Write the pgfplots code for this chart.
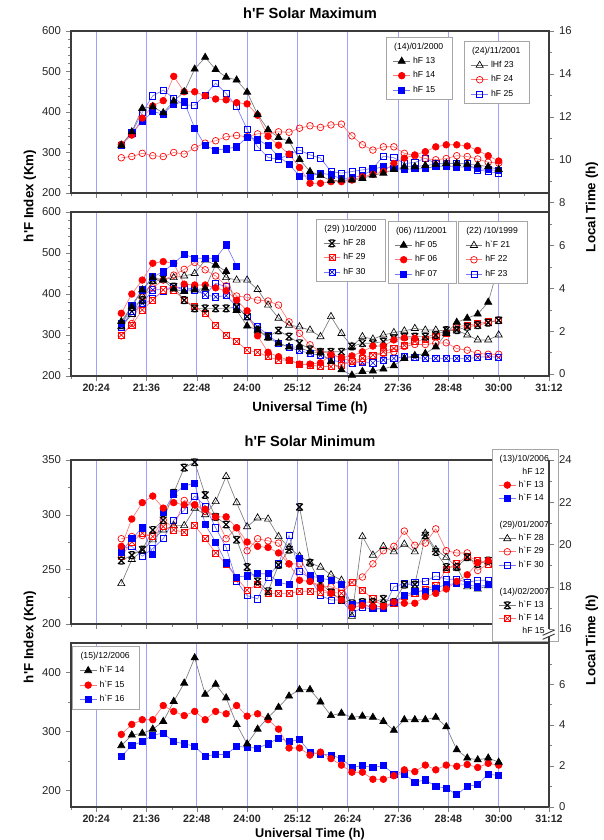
\documentclass[border=0pt]{standalone}
\usepackage{fontspec}
\setmainfont{Liberation Sans}
\usepackage{pgfplots}
\pgfplotsset{compat=1.18}
\definecolor{gridblue}{RGB}{160,160,255}
\definecolor{axgray}{RGB}{60,60,60}
\definecolor{linegray}{RGB}{125,125,125}
\definecolor{linered}{RGB}{255,120,120}
\definecolor{lineblue}{RGB}{120,120,255}

\pgfdeclareplotmark{boxx}{%
 \pgfpathrectangle{\pgfqpoint{-\pgfplotmarksize}{-\pgfplotmarksize}}{\pgfqpoint{2\pgfplotmarksize}{2\pgfplotmarksize}}%
 \pgfusepathqfillstroke
 \pgfpathmoveto{\pgfqpoint{-\pgfplotmarksize}{-\pgfplotmarksize}}\pgfpathlineto{\pgfqpoint{\pgfplotmarksize}{\pgfplotmarksize}}%
 \pgfpathmoveto{\pgfqpoint{-\pgfplotmarksize}{\pgfplotmarksize}}\pgfpathlineto{\pgfqpoint{\pgfplotmarksize}{-\pgfplotmarksize}}%
 \pgfusepathqstroke}
\pgfdeclareplotmark{xstar}{%
 \pgfpathmoveto{\pgfqpoint{-\pgfplotmarksize}{-\pgfplotmarksize}}\pgfpathlineto{\pgfqpoint{\pgfplotmarksize}{\pgfplotmarksize}}%
 \pgfpathmoveto{\pgfqpoint{-\pgfplotmarksize}{\pgfplotmarksize}}\pgfpathlineto{\pgfqpoint{\pgfplotmarksize}{-\pgfplotmarksize}}%
 \pgfpathmoveto{\pgfqpoint{-0.6\pgfplotmarksize}{\pgfplotmarksize}}\pgfpathlineto{\pgfqpoint{0.6\pgfplotmarksize}{\pgfplotmarksize}}%
 \pgfpathmoveto{\pgfqpoint{-0.6\pgfplotmarksize}{-\pgfplotmarksize}}\pgfpathlineto{\pgfqpoint{0.6\pgfplotmarksize}{-\pgfplotmarksize}}%
 \pgfusepathqstroke}

\pgfplotsset{
 base/.style={scale only axis, width=358.5pt, xmin=19.8, xmax=31.2,
  xtick={20.4,21.6,22.8,24,25.2,26.4,27.6,28.8,30,31.2},
  minor xtick={19.8,21,22.2,23.4,24.6,25.8,27,28.2,29.4,30.6},
  xmajorgrids, grid style={gridblue, line width=0.7pt},
  major grid style={gridblue, line width=0.7pt},
  xtick pos=bottom, ytick pos=left, tick align=outside,
  major tick length=4pt, minor tick length=2.5pt,
  axis line style={-, draw=axgray, line width=0.9pt},
  yticklabel style={font=\fontsize{8.5}{10}\selectfont, text=black!85},
  xticklabel style={font=\bfseries\fontsize{8}{10}\selectfont, text=black!85, inner sep=1.5pt},
  /pgf/number format/assume math mode=true, scaled y ticks=false},
 rax/.style={scale only axis, width=358.5pt, xmin=0, xmax=1,
  axis x line=none, axis y line*=right, tick align=outside,
  major tick length=4pt, minor tick length=2.5pt,
  axis line style={-, draw=axgray, line width=0.9pt},
  yticklabel style={font=\fontsize{8.5}{10}\selectfont, text=black!85},
  /pgf/number format/assume math mode=true},
 legax/.style={scale only axis, width=358.5pt, hide axis, xmin=0, xmax=1, ymin=0, ymax=1,
  legend cell align=left,
  legend style={draw=gray!70, line width=0.6pt, fill=white, font=\fontsize{6.5}{7.8}\selectfont,
   inner sep=2pt, inner xsep=5pt, row sep=0.6pt},
  legend image code/.code={\draw[mark repeat=2, mark phase=2] plot coordinates {(0cm,0cm) (0.22cm,0cm) (0.44cm,0cm)};}},
 ser/.style={line width=0.5pt, mark size=2.5pt},
 ktri/.style={ser, draw=linegray, mark=triangle*, mark size=3.1pt, mark options={draw=black, fill=black}},
 ktrio/.style={ser, draw=linegray, mark=triangle, mark size=3.1pt, mark options={draw=black}},
 rdot/.style={ser, draw=linered, mark=*, mark options={draw=red, fill=red}},
 rcirc/.style={ser, draw=linered, mark=o, mark options={draw=red}},
 bsq/.style={ser, draw=lineblue, mark=square*, mark size=2.3pt, mark options={draw=blue, fill=blue}},
 bsqo/.style={ser, draw=lineblue, mark=square, mark size=2.3pt, mark options={draw=blue}},
 kx/.style={ser, draw=linegray, mark=xstar, mark options={draw=black, line width=0.9pt}},
 rbx/.style={ser, draw=linered, mark=boxx, mark size=2.3pt, mark options={draw=red, fill=white}},
 bbx/.style={ser, draw=lineblue, mark=boxx, mark size=2.3pt, mark options={draw=blue, fill=white}},
}

\begin{document}
\begin{tikzpicture}
\path[use as bounding box] (0,0) rectangle (453pt,630pt);

% ---------------- Panel 1 ----------------
\begin{axis}[base, at={(53.25pt,485.25pt)}, height=121.5pt, ymin=200, ymax=600,
  ytick={200,300,400,500,600}, minor y tick num=4, xticklabels={}]
\addplot[bsqo] coordinates {(21,318) (21.25,349) (21.5,399) (21.75,440) (22,454) (22.25,434) (22.5,417) (22.75,417) (23,442) (23.25,471) (23.5,446) (23.75,413) (24,357) (24.25,314) (24.5,288) (24.75,283) (25,296) (25.25,306) (25.5,294) (25.75,286) (26,253) (26.25,249) (26.5,253) (26.75,257) (27,261) (27.25,291) (27.5,287) (27.75,273) (28,275) (28.25,286) (28.5,273) (28.75,272) (29,273) (29.25,272) (29.5,257) (29.75,253) (30,249)};
\addplot[rcirc] coordinates {(21,287) (21.25,290) (21.5,298) (21.75,292) (22,290) (22.25,300) (22.5,296) (22.75,312) (23,323) (23.25,329) (23.5,339) (23.75,342) (24,339) (24.25,346) (24.5,349) (24.75,351) (25,350) (25.25,360) (25.5,366) (25.75,362) (26,368) (26.25,370) (26.5,341) (26.75,319) (27,306) (27.25,314) (27.5,314) (27.75,298) (28,292) (28.25,285) (28.5,282) (28.75,285) (29,292) (29.25,290) (29.5,284) (29.75,276) (30,274)};
\addplot[bsq] coordinates {(21,318) (21.25,347) (21.5,377) (21.75,401) (22,395) (22.25,420) (22.5,425) (22.75,360) (23,317) (23.25,306) (23.5,309) (23.75,314) (24,338) (24.25,332) (24.5,317) (24.75,290) (25,271) (25.25,242) (25.5,242) (25.75,249) (26,245) (26.25,235) (26.5,238) (26.75,243) (27,258) (27.25,266) (27.5,260) (27.75,258) (28,260) (28.25,260) (28.5,266) (28.75,266) (29,264) (29.25,264) (29.5,260) (29.75,258) (30,255)};
\addplot[rdot] coordinates {(21,320) (21.25,343) (21.5,385) (21.75,415) (22,428) (22.25,488) (22.5,450) (22.75,450) (23,440) (23.25,432) (23.5,430) (23.75,423) (24,420) (24.25,392) (24.5,340) (24.75,318) (25,296) (25.25,263) (25.5,224) (25.75,224) (26,228) (26.25,228) (26.5,232) (26.75,240) (27,246) (27.25,253) (27.5,273) (27.75,286) (28,294) (28.25,302) (28.5,314) (28.75,319) (29,319) (29.25,316) (29.5,305) (29.75,292) (30,279)};
\addplot[ktri] coordinates {(21,318) (21.25,351) (21.5,409) (21.75,413) (22,398) (22.25,427) (22.5,450) (22.75,506) (23,535) (23.25,505) (23.5,486) (23.75,479) (24,449) (24.25,394) (24.5,356) (24.75,337) (25,328) (25.25,283) (25.5,253) (25.75,243) (26,230) (26.25,232) (26.5,232) (26.75,236) (27,244) (27.25,249) (27.5,258) (27.75,265) (28,265) (28.25,268) (28.5,271) (28.75,273) (29,273) (29.25,271) (29.5,269) (29.75,265) (30,258)};
\end{axis}
\begin{axis}[legax, at={(53.25pt,485.25pt)}, height=121.5pt, legend style={at={(0.659,0.963)}, anchor=north west}]
\addlegendimage{empty legend}\addlegendentry{\hspace*{-0.5cm}(14)/01/2000}
\addlegendimage{ktri}\addlegendentry{hF 13}
\addlegendimage{rdot}\addlegendentry{hF 14}
\addlegendimage{bsq}\addlegendentry{hF 15}
\end{axis}
\begin{axis}[legax, at={(53.25pt,485.25pt)}, height=121.5pt, legend style={at={(0.822,0.938)}, anchor=north west}]
\addlegendimage{empty legend}\addlegendentry{\hspace*{-0.5cm}(24)/11/2001}
\addlegendimage{ktrio}\addlegendentry{lHf 23}
\addlegendimage{rcirc}\addlegendentry{hF 24}
\addlegendimage{bsqo}\addlegendentry{hF 25}
\end{axis}

% ---------------- Panel 2 ----------------
\begin{axis}[base, at={(53.25pt,348pt)}, height=123pt, ymin=200, ymax=600,
  ytick={200,300,400,500,600}, minor y tick num=4,
  xticklabels={20:24,21:36,22:48,24:00,25:12,26:24,27:36,28:48,30:00,31:12}]
\addplot[bbx] coordinates {(21,320) (21.25,357) (21.5,377) (21.75,410) (22,411) (22.25,418) (22.5,414) (22.75,410) (23,398) (23.25,393) (23.5,396) (23.75,370) (24,345) (24.25,320) (24.5,300) (24.75,280) (25,270) (25.25,262) (25.5,255) (25.75,250) (26,240) (26.25,233) (26.5,232) (26.75,233) (27,232) (27.25,239) (27.5,243) (27.75,247) (28,245) (28.25,243) (28.5,243) (28.75,243) (29,243) (29.25,243) (29.5,245) (29.75,248) (30,245)};
\addplot[bsqo] coordinates {(21,320) (21.25,353) (21.5,373) (21.75,389) (22,406) (22.25,418) (22.5,410) (22.75,416) (23,398) (23.25,426) (23.5,418)};
\addplot[rbx] coordinates {(21,300) (21.25,324) (21.5,361) (21.75,385) (22,410) (22.25,410) (22.5,385) (22.75,369) (23,353) (23.25,324) (23.5,300) (23.75,284) (24,263) (24.25,258) (24.5,247) (24.75,239) (25,239) (25.25,229) (25.5,227) (25.75,223) (26,223) (26.25,227) (26.5,235) (26.75,243) (27,251) (27.25,259) (27.5,267) (27.75,275) (28,284) (28.25,290) (28.5,296) (28.75,304) (29,320) (29.25,324) (29.5,328) (29.75,332) (30,336)};
\addplot[rcirc] coordinates {(21,298) (21.25,328) (21.5,392) (21.75,415) (22,434) (22.25,446) (22.5,460) (22.75,477) (23,459) (23.25,444) (23.5,420) (23.75,395) (24,392) (24.25,385) (24.5,383) (24.75,373) (25,332) (25.25,304) (25.5,276) (25.75,259) (26,255) (26.25,243) (26.5,237) (26.75,235) (27,249) (27.25,255) (27.5,259) (27.75,272) (28,277) (28.25,277) (28.5,280) (28.75,281) (29,267) (29.25,263) (29.5,255) (29.75,253) (30,253)};
\addplot[ktrio] coordinates {(21,320) (21.25,350) (21.5,395) (21.75,430) (22,435) (22.25,440) (22.5,444) (22.75,450) (23,483) (23.25,470) (23.5,440) (23.75,434) (24,434) (24.25,411) (24.5,373) (24.75,341) (25,324) (25.25,320) (25.5,312) (25.75,296) (26,345) (26.25,304) (26.5,272) (26.75,296) (27,290) (27.25,300) (27.5,306) (27.75,310) (28,316) (28.25,312) (28.5,312) (28.75,310) (29,312) (29.25,300) (29.5,288) (29.75,288) (30,300)};
\addplot[kx] coordinates {(21,324) (21.25,368) (21.5,385) (21.75,434) (22,438) (22.25,418) (22.5,385) (22.75,365) (23,365) (23.25,365) (23.5,365) (23.75,368) (24,345) (24.25,312) (24.5,296) (24.75,311) (25,296) (25.25,280) (25.5,265) (25.75,259) (26,259) (26.25,259) (26.5,272) (26.75,280) (27,280) (27.25,284) (27.5,292) (27.75,296) (28,296) (28.25,296) (28.5,300) (28.75,312) (29,312) (29.25,320) (29.5,324) (29.75,330) (30,336)};
\addplot[rdot] coordinates {(21,353) (21.25,400) (21.5,434) (21.75,475) (22,479) (22.25,475) (22.5,424) (22.75,422) (23,422) (23.25,415) (23.5,408) (23.75,385) (24,359) (24.25,298) (24.5,258) (24.75,247) (25,239) (25.25,229) (25.5,229) (25.75,232) (26,251) (26.25,245) (26.5,249) (26.75,259) (27,273) (27.25,273) (27.5,288) (27.75,293) (28,292)};
\addplot[bsq] coordinates {(21,328) (21.25,373) (21.5,410) (21.75,442) (22,454) (22.25,475) (22.5,497) (22.75,487) (23,487) (23.25,487) (23.5,520) (23.75,468)};
\addplot[ktri] coordinates {(21,333) (21.25,369) (21.5,410) (21.75,440) (22,434) (22.25,412) (22.5,406) (22.75,410) (23,414) (23.25,471) (23.5,455) (23.75,360) (24,322) (24.25,312) (24.5,293) (24.75,280) (25,271) (25.25,270) (25.5,259) (25.75,257) (26,235) (26.25,215) (26.5,202) (26.75,211) (27,212) (27.25,217) (27.5,225) (27.75,243) (28,250) (28.25,255) (28.5,271) (28.75,304) (29,331) (29.25,341) (29.5,351) (29.75,380) (30,470)};
\end{axis}
\begin{axis}[legax, at={(53.25pt,348pt)}, height=123pt, legend style={at={(0.513,0.957)}, anchor=north west}]
\addlegendimage{empty legend}\addlegendentry{\hspace*{-0.5cm}(29) )10/2000}
\addlegendimage{kx}\addlegendentry{hF 28}
\addlegendimage{rbx}\addlegendentry{hF 29}
\addlegendimage{bbx}\addlegendentry{hF 30}
\end{axis}
\begin{axis}[legax, at={(53.25pt,348pt)}, height=123pt, legend style={at={(0.663,0.945)}, anchor=north west}]
\addlegendimage{empty legend}\addlegendentry{\hspace*{-0.5cm}(06) /11/2001}
\addlegendimage{ktri}\addlegendentry{hF 05}
\addlegendimage{rdot}\addlegendentry{hF 06}
\addlegendimage{bsq}\addlegendentry{hF 07}
\end{axis}
\begin{axis}[legax, at={(53.25pt,348pt)}, height=123pt, legend style={at={(0.81,0.945)}, anchor=north west}]
\addlegendimage{empty legend}\addlegendentry{\hspace*{-0.5cm}(22) /10/1999}
\addlegendimage{ktrio}\addlegendentry{h\textasciigrave F 21}
\addlegendimage{rcirc}\addlegendentry{hF 22}
\addlegendimage{bsqo}\addlegendentry{hF 23}
\end{axis}

% right axis for panels 1 and 2
\begin{axis}[rax, at={(53.25pt,348pt)}, height=258.75pt, ymin=-0.093, ymax=16,
  ytick={0,2,...,16}, minor ytick={1,3,...,15}]
\end{axis}

% ---------------- Panel 3 ----------------
\begin{axis}[base, at={(53.25pt,162pt)}, height=123pt, ymin=200, ymax=350,
  ytick={200,250,300,350}, minor y tick num=1, xticklabels={}]
\addplot[bsqo] coordinates {(21,269) (21.25,271) (21.5,262) (21.75,269) (22,278) (22.25,295) (22.5,304) (22.75,317) (23,308) (23.25,288) (23.5,270) (23.75,239) (24,226) (24.25,223) (24.5,243) (24.75,255) (25,281) (25.25,248) (25.5,242) (25.75,226) (26,222) (26.25,222) (26.5,210) (26.75,215) (27,214) (27.25,214) (27.5,234) (27.75,237) (28,238) (28.25,239) (28.5,244) (28.75,241) (29,241) (29.25,238) (29.5,240) (29.75,240)};
\addplot[rcirc] coordinates {(21,278) (21.25,280) (21.5,281) (21.75,281) (22,295) (22.25,288) (22.5,313) (22.75,309) (23,303) (23.25,298) (23.5,278) (23.75,288) (24,267) (24.25,278) (24.5,276) (24.75,274) (25,255) (25.25,255) (25.5,239) (25.75,235) (26,234) (26.25,231) (26.5,238) (26.75,243) (27,255) (27.25,267) (27.5,271) (27.75,285) (28,272) (28.25,274) (28.5,287) (28.75,267) (29,265) (29.25,265) (29.5,249) (29.75,255)};
\addplot[ktrio] coordinates {(21,237) (21.25,259) (21.5,267) (21.75,277) (22,286) (22.25,290) (22.5,290) (22.75,306) (23,300) (23.25,312) (23.5,335) (23.75,311) (24,289) (24.25,297) (24.5,296) (24.75,280) (25,270) (25.25,262) (25.5,256) (25.75,252) (26,245) (26.25,240) (26.5,207) (26.75,280) (27,263) (27.25,271) (27.5,266) (27.75,273) (28,266) (28.25,283) (28.5,268) (28.75,261) (29,252) (29.25,234) (29.5,232) (29.75,235)};
\addplot[rbx] coordinates {(21,262) (21.25,275) (21.5,283) (21.75,280) (22,289) (22.25,286) (22.5,284) (22.75,290) (23,278) (23.25,265) (23.5,255) (23.75,242) (24,231) (24.25,236) (24.5,228) (24.75,228) (25,228) (25.25,230) (25.5,230) (25.75,229) (26,229) (26.25,228) (26.5,238) (26.75,231) (27,223) (27.25,216) (27.5,219) (27.75,225) (28,228) (28.25,232) (28.5,235) (28.75,250) (29,255) (29.25,262) (29.5,258) (29.75,255)};
\addplot[kx] coordinates {(21,258) (21.25,263) (21.5,268) (21.75,286) (22,295) (22.25,320) (22.5,343) (22.75,348) (23,318) (23.25,298) (23.5,291) (23.75,277) (24,252) (24.25,239) (24.5,230) (24.75,254) (25,268) (25.25,307) (25.5,256) (25.75,237) (26,229) (26.25,222) (26.5,219) (26.75,220) (27,220) (27.25,223) (27.5,220) (27.75,236) (28,236) (28.25,281) (28.5,266) (28.75,252) (29,252) (29.25,261) (29.5,255) (29.75,258)};
\addplot[bsq] coordinates {(21,266) (21.25,278) (21.5,288) (21.75,264) (22,302) (22.25,319) (22.5,326) (22.75,329) (23,291) (23.25,275) (23.5,256) (23.75,243) (24,244) (24.25,246) (24.5,246) (24.75,238) (25,236) (25.25,260) (25.5,244) (25.75,242) (26,240) (26.25,236) (26.5,218) (26.75,219) (27,214) (27.25,214) (27.5,220) (27.75,226) (28,230) (28.25,230) (28.5,233) (28.75,236) (29,237) (29.25,236) (29.5,234) (29.75,236)};
\addplot[rdot] coordinates {(21,271) (21.25,296) (21.5,311) (21.75,317) (22,306) (22.25,311) (22.5,309) (22.75,309) (23,305) (23.25,298) (23.5,298) (23.75,288) (24,275) (24.25,271) (24.5,270) (24.75,265) (25,255) (25.25,240) (25.5,239) (25.75,233) (26,228) (26.25,222) (26.5,215) (26.75,217) (27,216) (27.25,216) (27.5,220) (27.75,219) (28,219) (28.25,225) (28.5,228) (28.75,232) (29,239) (29.25,245) (29.5,256) (29.75,258)};
\end{axis}
\begin{axis}[legax, at={(53.25pt,162pt)}, height=123pt, legend style={at={(1.02,1.067)}, anchor=north east, row sep=-0.4pt}]
\addlegendimage{empty legend}\addlegendentry{\hspace*{-0.5cm}(13)/10/2006}
\addlegendimage{empty legend}\addlegendentry{\hspace*{0.1cm}hF 12}
\addlegendimage{rdot}\addlegendentry{h\textasciigrave F 13}
\addlegendimage{bsq}\addlegendentry{h\textasciigrave F 14}
\addlegendimage{empty legend}\addlegendentry{\strut}
\addlegendimage{empty legend}\addlegendentry{\hspace*{-0.5cm}(29)/01/2007}
\addlegendimage{ktrio}\addlegendentry{h\textasciigrave F 28}
\addlegendimage{rcirc}\addlegendentry{h\textasciigrave F 29}
\addlegendimage{bsqo}\addlegendentry{h\textasciigrave F 30}
\addlegendimage{empty legend}\addlegendentry{\strut}
\addlegendimage{empty legend}\addlegendentry{\hspace*{-0.5cm}(14)/02/2007}
\addlegendimage{kx}\addlegendentry{h\textasciigrave F 13}
\addlegendimage{rbx}\addlegendentry{h\textasciigrave F 14}
\addlegendimage{empty legend}\addlegendentry{\hspace*{0.1cm}hF 15}
\end{axis}
\begin{axis}[rax, at={(53.25pt,158.25pt)}, height=126.75pt, ymin=16, ymax=24,
  ytick={16,18,20,22,24}, minor ytick={17,19,21,23}]
\end{axis}

% ---------------- Panel 4 ----------------
\begin{axis}[base, at={(53.25pt,24.75pt)}, height=123pt, ymin=172, ymax=450,
  ytick={200,300,400}, minor ytick={250,350},
  xticklabels={20:24,21:36,22:48,24:00,25:12,26:24,27:36,28:48,30:00,31:12}]
\addplot[bsq] coordinates {(21,258) (21.25,276) (21.5,283) (21.75,294) (22,297) (22.25,283) (22.5,279) (22.75,275) (23,258) (23.25,261) (23.5,261) (23.75,275) (24,273) (24.25,272) (24.5,279) (24.75,289) (25,283) (25.25,286) (25.5,265) (25.75,262) (26,260) (26.25,254) (26.5,239) (26.75,242) (27,239) (27.25,242) (27.5,228) (27.75,228) (28,214) (28.25,218) (28.5,207) (28.75,204) (29,193) (29.25,207) (29.5,210) (29.75,228) (30,225)};
\addplot[rdot] coordinates {(21,295) (21.25,312) (21.5,320) (21.75,320) (22,344) (22.25,334) (22.5,327) (22.75,334) (23,320) (23.25,334) (23.5,330) (23.75,344) (24,326) (24.25,330) (24.5,320) (24.75,304) (25,272) (25.25,272) (25.5,260) (25.75,265) (26,254) (26.25,243) (26.5,231) (26.75,231) (27,219) (27.25,219) (27.5,225) (27.75,235) (28,232) (28.25,243) (28.5,235) (28.75,243) (29,241) (29.25,244) (29.5,239) (29.75,246) (30,243)};
\addplot[ktri] coordinates {(21,276) (21.25,294) (21.5,297) (21.75,304) (22,317) (22.25,351) (22.5,382) (22.75,425) (23,363) (23.25,380) (23.5,357) (23.75,312) (24,279) (24.25,304) (24.5,324) (24.75,341) (25,360) (25.25,371) (25.5,371) (25.75,350) (26,327) (26.25,331) (26.5,324) (26.75,326) (27,324) (27.25,317) (27.5,302) (27.75,320) (28,320) (28.25,320) (28.5,324) (28.75,308) (29,269) (29.25,255) (29.5,252) (29.75,255) (30,248)};
\end{axis}
\begin{axis}[legax, at={(53.25pt,24.75pt)}, height=123pt, legend style={at={(0.003,0.98)}, anchor=north west}]
\addlegendimage{empty legend}\addlegendentry{\hspace*{-0.5cm}(15)/12/2006}
\addlegendimage{ktri}\addlegendentry{h\textasciigrave F 14}
\addlegendimage{rdot}\addlegendentry{h\textasciigrave F 15}
\addlegendimage{bsq}\addlegendentry{h\textasciigrave F 16}
\end{axis}
\begin{axis}[rax, at={(53.25pt,24.75pt)}, height=128.25pt, ymin=0, ymax=8.35,
  ytick={0,2,4,6}, minor ytick={1,3,5,7}]
\end{axis}

% axis break marks
\draw[axgray, line width=0.7pt] (407pt,153.5pt) -- (416pt,157.5pt);
\draw[axgray, line width=0.7pt] (407pt,150.5pt) -- (416pt,154.5pt);

% titles and labels
\node[font=\bfseries\fontsize{11}{13}\selectfont] at (232.5pt,620.25pt) {h\textquotesingle F Solar Maximum};
\node[font=\bfseries\fontsize{11}{13}\selectfont] at (232.5pt,299.25pt) {h\textquotesingle F Solar Minimum};
\node[font=\bfseries\fontsize{10}{12}\selectfont] at (232.5pt,324pt) {Universal Time (h)};
\node[font=\bfseries\fontsize{9.5}{11}\selectfont] at (232.5pt,4.6pt) {Universal Time (h)};
\node[font=\bfseries\fontsize{10}{12}\selectfont, rotate=90] at (22.5pt,483pt) {h\textquotesingle F Index (Km)};
\node[font=\bfseries\fontsize{10}{12}\selectfont, rotate=90] at (22.5pt,152.25pt) {h\textquotesingle F Index (Km)};
\node[font=\bfseries\fontsize{10}{12}\selectfont, rotate=90] at (444pt,474.75pt) {Local Time (h)};
\node[font=\bfseries\fontsize{10}{12}\selectfont, rotate=90] at (444pt,150pt) {Local Time (h)};
\end{tikzpicture}
\end{document}
